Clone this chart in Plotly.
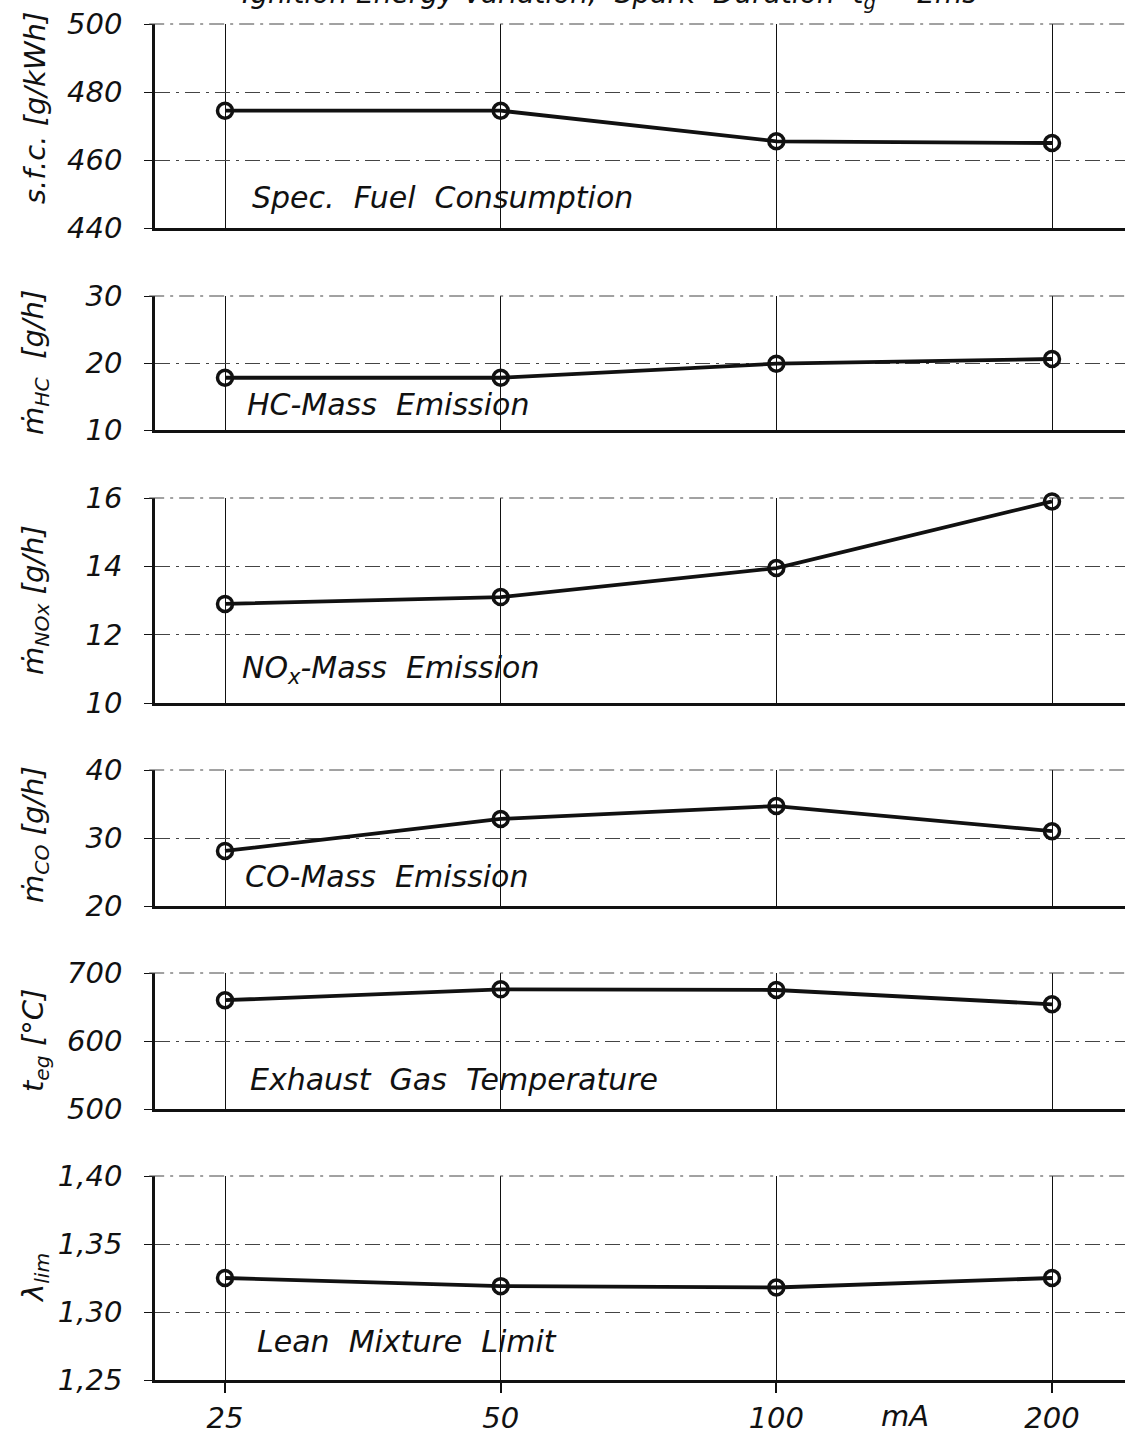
import plotly.graph_objects as go
from plotly.subplots import make_subplots
import math

# ---------------- data ----------------
current_mA = [25, 50, 100, 200]
x_tick_labels = ["25", "50", "100", "200"]

sfc = [474.5, 474.5, 465.5, 465.0]          # s.f.c. [g/kWh]
hc_mass = [17.8, 17.8, 19.9, 20.6]          # HC mass emission [g/h]
nox_mass = [12.9, 13.1, 13.95, 15.9]        # NOx mass emission [g/h]
co_mass = [28.1, 32.8, 34.7, 31.0]          # CO mass emission [g/h]
t_exhaust = [660, 676, 675, 654]            # exhaust gas temperature [°C]
lambda_lim = [1.325, 1.319, 1.318, 1.325]   # lean mixture limit

panel_names = ["Spec.  Fuel  Consumption", "HC-Mass  Emission", "NO<sub>x</sub>-Mass  Emission",
               "CO-Mass  Emission", "Exhaust  Gas  Temperature", "Lean  Mixture  Limit"]
y_titles = ["s.f.c. [g/kWh]", "ṁ<sub>HC</sub>  [g/h]", "ṁ<sub>NOx</sub> [g/h]",
            "ṁ<sub>CO</sub> [g/h]", "t<sub>eg</sub> [°C]", "λ<sub>lim</sub>"]
y_ranges = [[440, 500], [10, 30], [10, 16], [20, 40], [500, 700], [1.25, 1.40]]
y_dticks = [20, 10, 2, 10, 100, 0.05]
series = [sfc, hc_mass, nox_mass, co_mass, t_exhaust, lambda_lim]

# ---------------- layout helpers ----------------
W, H = 1130, 1438
ML, MR, MT, MB = 155, 5, 0, 58
PW, PH = W - ML - MR, H - MT - MB

def px(xp):
    return (xp - ML) / PW

def py(yp):
    return 1 - (yp - MT) / PH

panel_pix = [(24, 228), (296, 430), (498, 703), (770, 906), (973, 1109), (1176, 1380)]
label_pos = [(250, 197), (245, 405), (240, 670), (243, 877), (248, 1079), (255, 1341)]
ytitle_pos = [(35, 108), (35, 363), (35, 600), (35, 835), (35, 1041), (35, 1278)]

FONT = "DejaVu Sans"
INK = "#111111"

def fnt(size=28):
    return dict(family=FONT, size=size, color=INK, style="italic", weight=300)

fig = make_subplots(rows=6, cols=1, shared_xaxes=False)

for i, vals in enumerate(series):
    fig.add_trace(go.Scatter(
        x=current_mA, y=vals, mode="lines+markers",
        line=dict(color=INK, width=3.8),
        marker=dict(symbol="circle-open", size=15, color=INK, line=dict(width=3.5, color=INK)),
        showlegend=False, cliponaxis=False,
    ), row=i + 1, col=1)

x_lo = math.log10(25) - 70 / 915.8
x_hi = math.log10(200) + 73 / 915.8

fig.update_layout(
    width=W, height=H,
    margin=dict(l=ML, r=MR, t=MT, b=MB, pad=0),
    paper_bgcolor="white", plot_bgcolor="white",
    separators=",.",
    font=fnt(),
    showlegend=False,
)

for i in range(6):
    top, bot = panel_pix[i]
    n = "" if i == 0 else str(i + 1)
    fig.layout["yaxis" + n].update(
        domain=[py(bot), py(top)], range=y_ranges[i], dtick=y_dticks[i], tick0=y_ranges[i][0],
        showline=True, linecolor=INK, linewidth=2.5,
        showgrid=True, gridcolor="#444444", gridwidth=1, griddash="longdashdot",
        zeroline=False, ticks="outside", ticklen=8, tickcolor=INK, tickwidth=1.2,
        ticklabelstandoff=16, automargin=False,
        tickfont=fnt(29),
        tickformat=".2f" if i == 5 else "d",
    )
    fig.layout["xaxis" + n].update(
        type="log", range=[x_lo, x_hi], tickvals=current_mA, ticktext=x_tick_labels,
        showline=True, linecolor=INK, linewidth=2.5,
        showgrid=True, gridcolor=INK, gridwidth=1.2,
        zeroline=False, automargin=False,
        showticklabels=(i == 5), ticks="outside" if i == 5 else "",
        ticklen=10, tickcolor=INK, tickwidth=1.5, ticklabelstandoff=0,
        tickfont=fnt(29),
    )
    # top frame line (dash-dot like the grid)
    fig.add_shape(type="line", xref="x" + n + " domain", yref="y" + n + " domain",
                  x0=-0.006, x1=1, y0=1, y1=1, line=dict(color="#444444", width=1, dash="longdashdot"))
    # panel label
    lx, ly = label_pos[i]
    fig.add_annotation(x=px(lx), y=py(ly), xref="paper", yref="paper", text=panel_names[i],
                       showarrow=False, xanchor="left", yanchor="middle", font=fnt(30))
    tx, ty = ytitle_pos[i]
    fig.add_annotation(x=px(tx), y=py(ty), xref="paper", yref="paper", text=y_titles[i],
                       showarrow=False, textangle=-90, xanchor="center", yanchor="middle",
                       font=fnt(29))

# unit label on the x axis
fig.add_annotation(x=px(905), y=py(1416), xref="paper", yref="paper", text="mA",
                   showarrow=False, xanchor="center", yanchor="middle", font=fnt(29))

# heading at the top of the page (cut off by the page edge, as in the original scan)
fig.add_annotation(x=px(240), y=py(-4), xref="paper", yref="paper",
                   text="Ignition Energy Variation,  Spark  Duration  t<sub>g</sub> = 2ms",
                   showarrow=False, xanchor="left", yanchor="middle", font=fnt(28))

fig.write_html("out.html")
